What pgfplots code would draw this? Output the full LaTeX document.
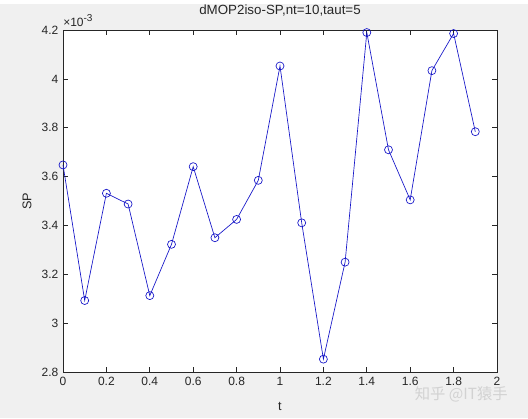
\documentclass[border=0pt]{standalone}
\usepackage{pgfplots}
\pgfplotsset{compat=1.18}
\usepackage{fontspec}
\setmainfont{Liberation Sans}
\newfontfamily\cjk{Noto Sans CJK SC}
\definecolor{figbg}{RGB}{240,240,240}
\definecolor{axcol}{RGB}{38,38,38}
\definecolor{lineblue}{RGB}{20,20,200}
\begin{document}
\begin{tikzpicture}
\fill[figbg] (0,0) rectangle (396pt,310.5pt);
\begin{axis}[
  at={(47.25pt,34.5pt)}, anchor=south west,
  scale only axis, width=325.5pt, height=256.5pt,
  xmin=0, xmax=2, ymin=2.8, ymax=4.2,
  xtick={0,0.2,...,2.01}, ytick={2.8,3.0,...,4.21},
  scaled ticks=false,
  /pgf/number format/assume math mode=true,
  xticklabel style={/pgf/number format/fixed,/pgf/number format/precision=1},
  yticklabel style={/pgf/number format/fixed,/pgf/number format/precision=1},
  tick label style={font=\fontsize{9}{10}\selectfont, text=axcol},
  axis line style={axcol, line width=0.5pt},
  major tick style={axcol, line width=0.5pt},
  major tick length=3.8pt,
  tick align=inside,
  axis background/.style={fill=white},
  title={dMOP2iso-SP,nt=10,taut=5},
  title style={font=\fontsize{10}{11}\selectfont, text=axcol, at={(axis description cs:0.5,1.035)}, anchor=center},
  xlabel={t}, ylabel={SP},
  xlabel style={font=\fontsize{9.5}{10}\selectfont, text=axcol, at={(axis description cs:0.5,-0.1)}, anchor=center},
  ylabel style={font=\fontsize{9.5}{10}\selectfont, text=axcol, at={(axis description cs:-0.083,0.5)}, anchor=center, rotate=0},
  clip=false,
]
\addplot[lineblue, line width=0.5pt, mark=o, mark size=3pt, mark options={lineblue, line width=0.5pt}] coordinates {
(0.0,3.648) (0.1,3.093) (0.2,3.532) (0.3,3.488) (0.4,3.113)
(0.5,3.323) (0.6,3.641) (0.7,3.350) (0.8,3.425) (0.9,3.585)
(1.0,4.053) (1.1,3.411) (1.2,2.853) (1.3,3.250) (1.4,4.190)
(1.5,3.710) (1.6,3.505) (1.7,4.034) (1.8,4.186) (1.9,3.784)
};
\node[anchor=south west, inner sep=0pt, text=axcol, font=\fontsize{9}{10}\selectfont] at (rel axis cs:0,1.008) {×10\raisebox{0.45em}{\fontsize{7.5}{8}\selectfont -3}};
\end{axis}
\node[text=gray!35, font=\cjk\fontsize{11.5}{12}\selectfont, anchor=center] at (346pt,17.5pt) {知乎 @IT猿手};
\end{tikzpicture}
\end{document}
